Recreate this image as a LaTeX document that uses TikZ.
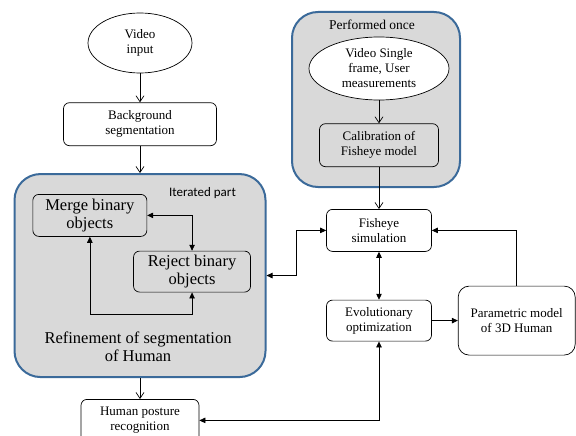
\documentclass[tikz,border=0pt]{standalone}
\usepackage{fontspec}
\setmainfont{Liberation Serif}
\newfontfamily\calibrifont{Carlito}
\usetikzlibrary{arrows.meta,positioning,calc,shapes.geometric}

\definecolor{groupblue}{RGB}{59,106,154}
\definecolor{groupgray}{RGB}{217,217,217}

\begin{document}
\begin{tikzpicture}[
  x=1pt, y=1pt,
  flow/.style={draw, -{Straight Barb[length=6pt,width=8pt]}, line width=0.7pt},
  line/.style={draw, line width=0.7pt, {Triangle[length=6pt,width=5.5pt]}-{Triangle[length=6pt,width=5.5pt]}},
  oneway/.style={draw, line width=0.7pt, -{Triangle[length=6pt,width=5.5pt]}},
  box/.style={rectangle, draw, rounded corners=6pt, align=center, fill=white,
              line width=0.7pt, inner sep=2pt, font=\fontsize{13}{15}\selectfont},
  bigbox/.style={rectangle, draw, rounded corners=6pt, align=center, fill=groupgray,
              line width=0.7pt, inner sep=2pt, font=\fontsize{16.5}{18}\selectfont},
  oval/.style={ellipse, draw, align=center, fill=white, line width=0.7pt,
              inner sep=0pt, font=\fontsize{13}{15}\selectfont},
  group/.style={rectangle, draw=groupblue, fill=groupgray, line width=2pt,
              rounded corners=26pt}
]
\useasboundingbox (0,0) rectangle (576,-436);

% =======================================================
%                     LEFT CHAIN
% =======================================================
\node[oval, minimum width=104pt, minimum height=60pt] (vid) at (140,-43) {Video\\input};
\node[box, minimum width=153pt, minimum height=43pt, below=29pt of vid] (bgseg) {Background\\segmentation};
\node[group, minimum width=251pt, minimum height=203pt, below=27pt of bgseg] (refine) {};
\node[box, minimum width=118pt, minimum height=42pt, below=21pt of refine] (human) {Human posture\\recognition};

% iterated part (inside refine)
\node[bigbox, minimum width=114pt, minimum height=42pt, anchor=north west,
      below right=21pt and 19pt of refine.north west] (merge) {Merge binary\\objects};
\node[bigbox, minimum width=117pt, minimum height=41pt, anchor=north west,
      below right=14pt and -14pt of merge.south east] (reject) {Reject binary\\objects};
\node[font=\calibrifont\fontsize{13}{15}\selectfont] (iterlbl) at ($(refine.north east)+(-64,-20)$) {Iterated part};
\node[align=center, font=\fontsize{16.5}{18}\selectfont] (refinelbl) at ($(refine.south)+(-2,31)$) {Refinement of segmentation\\of Human};

% =======================================================
%                     RIGHT CHAIN
% =======================================================
\node[group, minimum width=168pt, minimum height=175pt] (perf) at (376,-99.5) {};
\node[font=\fontsize{13.5}{15}\selectfont] (perflbl) at (372,-25) {Performed once};
\node[oval, minimum width=140pt, minimum height=63pt] (vsingle) at (379,-68.5) {Video Single\\frame, User\\measurements};
\node[box, fill=groupgray, minimum width=119pt, minimum height=43pt, below=23pt of vsingle] (calib) {Calibration of\\Fisheye model};

\node[box, minimum width=105pt, minimum height=42pt, below=42pt of calib] (fish) {Fisheye\\simulation};
\node[box, minimum width=105pt, minimum height=41pt, below=48pt of fish] (evo) {Evolutionary\\optimization};
\node[box, rounded corners=11pt, minimum width=117pt, minimum height=69pt, right=26pt of evo] (param) {Parametric model\\of 3D Human};

% =======================================================
%                     CONNECTIONS
% =======================================================
\draw[flow] (vid) -- (bgseg);
\draw[flow] (bgseg) -- (refine);
\draw[flow] (refine) -- (human);
\draw[flow] (vsingle) -- (calib);
\draw[flow] (calib) -- (fish);

% merge <-> reject loop
\draw[line] (merge.east) -| (reject.north);
\draw[line] (reject.south) -- ++(0,-22) -| (merge.south);

% refine <-> fisheye
\draw[line] (refine.east) -- ++(30,0) |- (fish.west);

% fisheye <-> evolutionary
\draw[line] (fish) -- (evo);
\draw[oneway] (evo) -- (param);
\draw[oneway] (param.north) |- (fish.east);

% evolutionary <-> posture
\draw[line] (human.east) -| (evo.south);

\end{tikzpicture}
\end{document}
